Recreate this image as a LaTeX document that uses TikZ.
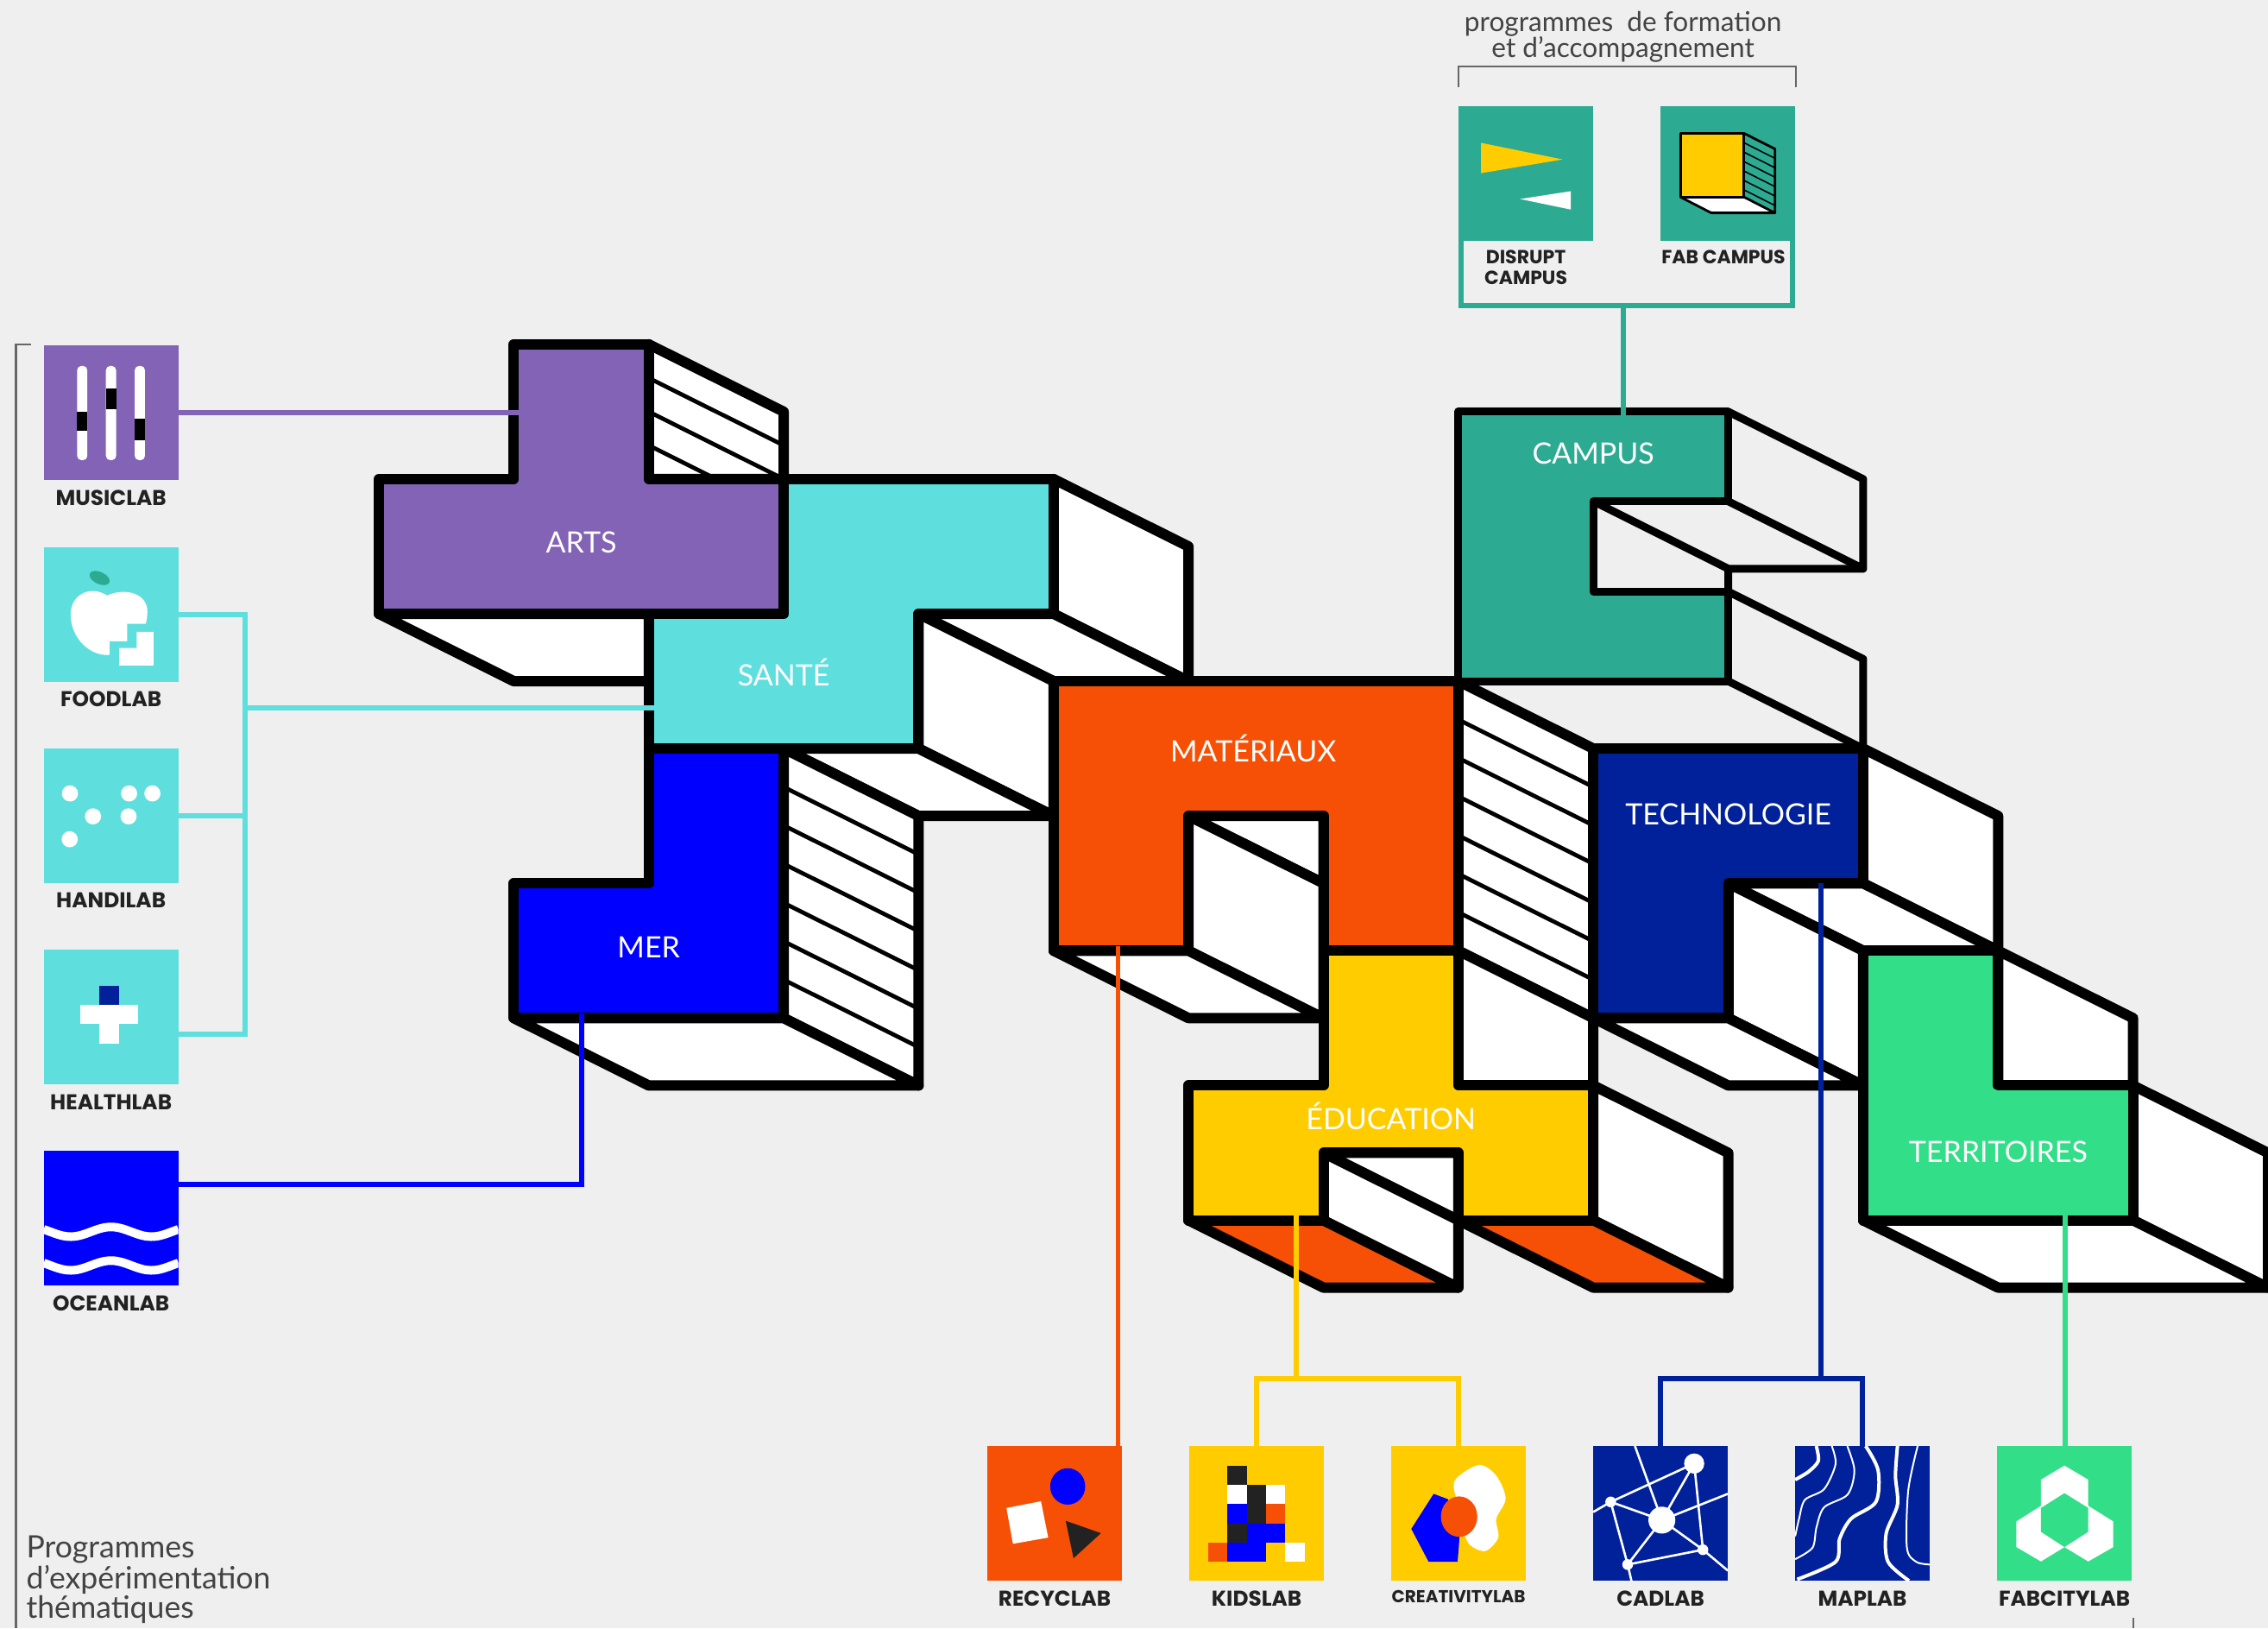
\documentclass[tikz,border=0pt]{standalone}
\usepackage{fontspec}
\usepackage{tikz}
\usetikzlibrary{positioning}
\setmainfont{Lato}
\newfontfamily\labfont{Poppins}

\definecolor{pagebg}{HTML}{EFEFEF}
\definecolor{artscol}{HTML}{8263B5}
\definecolor{santecol}{HTML}{5FDEDE}
\definecolor{mercol}{HTML}{0000FF}
\definecolor{matcol}{HTML}{F55005}
\definecolor{educol}{HTML}{FFCC00}
\definecolor{techcol}{HTML}{00219A}
\definecolor{terrcol}{HTML}{32DE87}
\definecolor{campcol}{HTML}{2DAB92}
\definecolor{inkcol}{HTML}{222222}
\definecolor{bracketcol}{HTML}{666666}

\begin{document}
\begin{tikzpicture}[
    x=78.175pt,
    y=-39.025pt,
    node distance=39pt,
    face/.style={
        draw=black,
        fill=white,
        line width=6pt,
        line join=round
    },
    front/.style={
        face,
        fill=#1
    },
    hollow/.style={
        draw=black,
        line width=4.5pt,
        line join=round
    },
    hatchline/.style={
        draw=black,
        line width=2.4pt
    },
    blocklabel/.style={
        text=white,
        inner sep=0pt,
        font=\fontsize{17}{17}\selectfont
    },
    iconbox/.style={
        minimum size=78pt,
        inner sep=0pt,
        outer sep=0pt
    },
    lablabel/.style={
        below=5.6pt of #1,
        text=inkcol,
        inner sep=0pt,
        align=center,
        font=\fontsize{12.4}{11.7}\selectfont\labfont\bfseries
    },
    iconart/.style={
        shift={(#1.north west)},
        x=0.78pt,
        y=-0.78pt
    },
    link/.style={
        draw=#1,
        line width=3pt
    },
    bracket/.style={
        draw=bracketcol,
        line width=1.1pt
    }
]

\useasboundingbox (-2.808,-5.11) rectangle (14,19.054);
\fill[pagebg] (-2.808,-5.11) rectangle (14,19.054);

% Arts and Sante sides
\path[face] (2,0) -- (3,1) -- (3,2) -- (2,2) -- cycle;
\foreach \h in {.5,1,1.5} \draw[hatchline] (2,\h) -- (3,\h+1);
\path[face] (0,4) -- (1,5) -- (2,5) -- (2,4) -- cycle;
\path[face] (5,2) -- (6,3) -- (6,5) -- (5,4) -- cycle;
\path[face] (4,4) -- (5,4) -- (6,5) -- (5,5) -- cycle;
\path[face] (4,4) -- (5,5) -- (5,7) -- (4,6) -- cycle;
\path[face] (3,6) -- (4,6) -- (5,7) -- (4,7) -- cycle;

% Mer sides
\path[face] (3,6) -- (4,7) -- (4,11) -- (3,10) -- cycle;
\foreach \h in {.57,1.14,1.71,2.29,2.86,3.43} \draw[hatchline] (3,6+\h) -- (4,7+\h);
\path[face] (1,10) -- (3,10) -- (4,11) -- (2,11) -- cycle;

% Materiaux sides
\path[face] (6,7) -- (7,7) -- (7,8) -- cycle;
\path[face] (6,7) -- (7,8) -- (7,10) -- (6,9) -- cycle;
\path[face] (5,9) -- (6,9) -- (7,10) -- (6,10) -- cycle;
\path[face] (8,5) -- (9,6) -- (9,10) -- (8,9) -- cycle;
\foreach \h in {.57,1.14,1.71,2.29,2.86,3.43} \draw[hatchline] (8,5+\h) -- (9,6+\h);
\path[face] (8,9) -- (9,10) -- (9,11) -- (8,11) -- cycle;

% Education sides
\path[face] (9,11) -- (10,12) -- (10,14) -- (9,13) -- cycle;
\path[face] (7,12) -- (8,12) -- (8,13) -- cycle;
\path[face, fill=matcol] (6,13) -- (7,13) -- (8,14) -- (7,14) -- cycle;
\path[face] (7,12) -- (8,13) -- (8,14) -- (7,13) -- cycle;
\path[face, fill=matcol] (8,13) -- (9,13) -- (10,14) -- (9,14) -- cycle;

% Campus sides
\path[hollow] (10,1) -- (11,2) -- (11,3.33) -- (10,2.33);
\path[hollow] (9,2.33) -- (10,3.33) -- (11,3.33);
\path[hollow] (10,3.33) -- (10,3.67) -- (11,4.67) -- (11,6);
\path[hollow] (10,5) -- (11,6);

% Technologie sides
\path[face] (11,6) -- (12,7) -- (12,9) -- (11,8) -- cycle;
\path[face] (10,8) -- (11,8) -- (12,9) -- (11,9) -- cycle;
\path[face] (10,8) -- (11,9) -- (11,11) -- (10,10) -- cycle;
\path[face] (9,10) -- (10,10) -- (11,11) -- (10,11) -- cycle;

% Territoires sides
\path[face] (12,9) -- (13,10) -- (13,11) -- (12,11) -- cycle;
\path[face] (13,11) -- (14,12) -- (14,14) -- (13,13) -- cycle;
\path[face] (11,13) -- (13,13) -- (14,14) -- (12,14) -- cycle;

% Fronts
\path[front=artscol] (0,2) -- (1,2) -- (1,0) -- (2,0) -- (2,2) -- (3,2) -- (3,4) -- (0,4) -- cycle;
\path[front=santecol] (3,2) -- (5,2) -- (5,4) -- (4,4) -- (4,6) -- (2,6) -- (2,4) -- (3,4) -- cycle;
\path[front=mercol] (2,6) -- (3,6) -- (3,10) -- (1,10) -- (1,8) -- (2,8) -- cycle;
\path[front=matcol] (5,5) -- (8,5) -- (8,9) -- (7,9) -- (7,7) -- (6,7) -- (6,9) -- (5,9) -- cycle;
\path[front=educol] (7,9) -- (8,9) -- (8,11) -- (9,11) -- (9,13) -- (8,13) -- (8,12) -- (7,12) -- (7,13) -- (6,13) -- (6,11) -- (7,11) -- cycle;
\path[hollow, fill=campcol] (8,1) -- (10,1) -- (10,2.33) -- (9,2.33) -- (9,3.67) -- (10,3.67) -- (10,5) -- (8,5) -- cycle;
\path[front=techcol] (9,6) -- (11,6) -- (11,8) -- (10,8) -- (10,10) -- (9,10) -- cycle;
\path[front=terrcol] (11,9) -- (12,9) -- (12,11) -- (13,11) -- (13,13) -- (11,13) -- cycle;

% Block names
\node (arts)   [blocklabel] at (1.5,2.94)  {ARTS};
\node (sante)  [blocklabel] at (3,4.87)    {SANTÉ};
\node (mer)    [blocklabel] at (2,8.95)    {MER};
\node (mat)    [blocklabel] at (6.48,6)    {MATÉRIAUX};
\node (edu)    [blocklabel] at (7.5,11.45) {ÉDUCATION};
\node (tech)   [blocklabel] at (10,6.98)   {TECHNOLOGIE};
\node (terr)   [blocklabel] at (12,11.98)  {TERRITOIRES};
\node (campus) [blocklabel] at (9,1.62)    {CAMPUS};

% Icons
\node (musiclab)  [iconbox, fill=artscol] at (-1.985,1.02) {};
\node (foodlab)   [iconbox, fill=santecol, below=38.6pt of musiclab] {};
\node (handilab)  [iconbox, fill=santecol, below=38.6pt of foodlab] {};
\node (healthlab) [iconbox, fill=santecol, below=38.6pt of handilab] {};
\node (oceanlab)  [iconbox, fill=mercol, below=38.6pt of healthlab] {};
\node (recyclab)  [iconbox, fill=matcol] at (5.008,17.35) {};
\node (kidslab)   [iconbox, fill=educol, right=of recyclab] {};
\node (creativitylab) [iconbox, fill=educol, right=of kidslab] {};
\node (cadlab)    [iconbox, fill=techcol, right=of creativitylab] {};
\node (maplab)    [iconbox, fill=techcol, right=of cadlab] {};
\node (fabcitylab)[iconbox, fill=terrcol, right=of maplab] {};
\node (disrupt)   [iconbox, fill=campcol] at (8.5,-2.54) {};
\node (fabcampus) [iconbox, fill=campcol, right=of disrupt] {};

% Icon names
\node (musicname)  [lablabel=musiclab]  {MUSICLAB};
\node (foodname)   [lablabel=foodlab]   {FOODLAB};
\node (handiname)  [lablabel=handilab]  {HANDILAB};
\node (healthname) [lablabel=healthlab] {HEALTHLAB};
\node (oceanname)  [lablabel=oceanlab]  {OCEANLAB};
\node (recycname)  [lablabel=recyclab]  {RECYCLAB};
\node (kidsname)   [lablabel=kidslab]   {KIDSLAB};
\node (creaname)   [lablabel=creativitylab, font=\fontsize{10}{11}\selectfont\labfont\bfseries] {CREATIVITYLAB};
\node (cadname)    [lablabel=cadlab]    {CADLAB};
\node (mapname)    [lablabel=maplab]    {MAPLAB};
\node (fabname)    [lablabel=fabcitylab]{FABCITYLAB};
\node (disruptname)[lablabel=disrupt, font=\fontsize{11}{11.7}\selectfont\labfont\bfseries] {DISRUPT\\CAMPUS};
\node (fabcampname)[lablabel=fabcampus, xshift=-2.5pt, font=\fontsize{11}{11.7}\selectfont\labfont\bfseries] {FAB CAMPUS};

% Icon drawings
\begin{scope}[iconart=musiclab]
    \fill[white, rounded corners=2.5pt] (24.8,15) rectangle (32.4,85);
    \fill[white, rounded corners=2.5pt] (46.2,15) rectangle (53.8,85);
    \fill[white, rounded corners=2.5pt] (67.6,15) rectangle (75.2,85);
    \fill[black] (24.8,49) rectangle (32.4,63);
    \fill[black] (46.2,32) rectangle (53.8,47);
    \fill[black] (67.6,54) rectangle (75.2,70);
\end{scope}
\begin{scope}[iconart=foodlab]
    \fill[campcol] (41.5,23) ellipse [x radius=8, y radius=4.5, rotate=-25];
    \fill[white] (47,36) .. controls (35,28) and (20,35) .. (20,50) .. controls (20,68) and (35,82) .. (50,80) .. controls (70,78) and (77,60) .. (77,48) .. controls (77,34) and (60,30) .. (47,36) -- cycle;
    \fill[santecol] (49,85) -- (49,70) -- (62,70) -- (62,57) -- (85,57) -- (85,85) -- cycle;
    \fill[white] (56,88) -- (81.5,88) -- (81.5,63) -- (69,63) -- (69,75) -- (56,75) -- cycle;
\end{scope}
\begin{scope}[iconart=handilab]
    \fill[white] (19.5,33.5) circle (6);
    \fill[white] (36.6,50.5) circle (6);
    \fill[white] (19.3,67.5) circle (6);
    \fill[white] (63.4,33.5) circle (6);
    \fill[white] (80.7,33.5) circle (6);
    \fill[white] (63,50.5) circle (6);
\end{scope}
\begin{scope}[iconart=healthlab]
    \fill[techcol] (41.5,27) rectangle (56,41);
    \fill[white] (27,41) rectangle (70,55);
    \fill[white] (41.5,55) rectangle (56,70);
\end{scope}
\begin{scope}[iconart=oceanlab]
    \clip (0,0) rectangle (100,100);
    \draw[white, line width=5pt, domain=0:100, samples=60] plot (\x,{60+3.6*sin(6*\x-30)});
    \draw[white, line width=5pt, domain=0:100, samples=60] plot (\x,{85+3.6*sin(6*\x-30)});
\end{scope}
\begin{scope}[iconart=recyclab]
    \fill[mercol] (59.7,30) ellipse [x radius=13, y radius=13.5];
    \fill[white] (14.2,46) -- (39.8,41) -- (45.2,68) -- (19,72.6) -- cycle;
    \fill[inkcol] (58.2,55.5) -- (84.4,64.7) -- (64,83.3) -- cycle;
\end{scope}
\begin{scope}[iconart=kidslab]
    \fill[inkcol] (28.4,14.5) rectangle (42.7,28.8);
    \fill[white] (28.4,28.8) rectangle (42.7,43.2);
    \fill[inkcol] (42.7,28.8) rectangle (57,57.5);
    \fill[white] (57,28.8) rectangle (71.3,43.2);
    \fill[mercol] (28.4,43.2) rectangle (42.7,57.5);
    \fill[matcol] (57,43.2) rectangle (71.3,57.5);
    \fill[inkcol] (28.4,57.5) rectangle (42.7,71.6);
    \fill[mercol] (42.7,57.5) rectangle (71.3,71.6);
    \fill[matcol] (14,71.6) rectangle (28.4,85.9);
    \fill[mercol] (28.4,71.6) rectangle (57,85.9);
    \fill[white] (71.3,71.6) rectangle (85.7,85.9);
\end{scope}
\begin{scope}[iconart=creativitylab]
    \fill[white] plot[smooth cycle] coordinates {(65,14) (78,22) (85,39) (78,54) (79.5,68) (69.6,78) (56.6,71) (50,45) (47,26)};
    \fill[mercol] (31.5,35.5) -- (42.1,39.5) -- (50.7,68) -- (49.3,86) -- (27.8,86) -- (14.9,61.5) -- cycle;
    \fill[matcol] (50.4,52.4) ellipse [x radius=13.5, y radius=15];
\end{scope}
\begin{scope}[iconart=cadlab]
    \clip (0,0) rectangle (100,100);
    \draw[white, line width=1.3pt] (31,0) -- (51,55) -- (100,35.5);
    \draw[white, line width=1.3pt] (0,49) -- (13,41.5) -- (75,13) -- (51,55);
    \draw[white, line width=1.3pt] (13,41.5) -- (51,55) -- (25.6,88) -- (13,41.5);
    \draw[white, line width=1.3pt] (25.6,88) -- (81.5,77) -- (51,55);
    \draw[white, line width=1.3pt] (75,13) -- (81.5,77) -- (100,92.5);
    \draw[white, line width=1.3pt] (25.6,88) -- (28.4,100);
    \fill[white] (51,55) circle (10);
    \fill[white] (75,13) circle (7.5);
    \fill[white] (13,41.5) circle (4);
    \fill[white] (81.5,77) circle (4);
    \fill[white] (25.6,88) circle (4);
\end{scope}
\begin{scope}[iconart=maplab]
    \clip (0,0) rectangle (100,100);
    \draw[white, line width=2pt] plot[smooth] coordinates {(15.7,0) (17.2,11) (10,19) (0,25)};
    \draw[white, line width=1pt] plot[smooth] coordinates {(27.2,0) (30,13.5) (21.5,32) (7.2,40) (2.9,54) (0,67)};
    \draw[white, line width=1pt] plot[smooth] coordinates {(38.7,0) (44,18) (39,36) (21.5,45.5) (15.8,60.5) (12.9,75.5) (0,84)};
    \draw[white, line width=2pt] plot[smooth] coordinates {(52.4,0) (61.6,18) (60,41.5) (41.5,54) (33,69) (30,86) (1.5,99)};
    \draw[white, line width=2pt] plot[smooth] coordinates {(76,0) (74.5,22) (76,43.5) (67.6,65) (69,86) (84.5,100)};
    \draw[white, line width=1pt] plot[smooth] coordinates {(91,0) (84,33) (83,75.5) (90,86) (100,88)};
\end{scope}
\begin{scope}[iconart=fabcitylab]
    \fill[white] (50,14.5) -- (67.7,25) -- (67.7,44.4) -- (86.3,56) -- (86.3,75) -- (67.7,85.7) -- (50,75) -- (32.6,85.7) -- (14.3,75) -- (14.3,56) -- (32.6,44.4) -- (32.6,25) -- cycle;
    \fill[terrcol] (50,35) -- (67.7,46) -- (67.7,63.7) -- (50,75) -- (32.6,63.7) -- (32.6,46) -- cycle;
\end{scope}
\begin{scope}[iconart=disrupt]
    \fill[educol] (16.7,27.5) -- (77.3,39.8) -- (16.7,50) -- cycle;
    \fill[white] (83.3,63.4) -- (45.7,69.2) -- (83.3,77) -- cycle;
\end{scope}
\begin{scope}[iconart=fabcampus]
    \fill[white] (14.8,67.7) -- (62,67.7) -- (85,79.5) -- (37.7,79.5) -- cycle;
    \foreach \h in {7,14,21,28,35,42} \draw[black, line width=.8pt] (62,20.4+\h) -- (85,32+\h);
    \draw[black, line width=1.4pt, line join=round] (62,20.4) -- (85,32) -- (85,79.5) -- (62,67.7) (14.8,67.7) -- (37.7,79.5) -- (85,79.5);
    \draw[black, fill=educol, line width=1.6pt, line join=round] (14.8,20.4) rectangle (62,67.7);
\end{scope}

% Connector ends
\coordinate (artsleft)   at (1.04,1.02);
\coordinate (santeleft)  at (2.04,5.4);
\coordinate (sbus)       at (-.99,5.4);
\coordinate (merbottom)  at (1.5,9.93);
\coordinate (matbottom)  at (5.48,8.93);
\coordinate (edubottom)  at (6.8,12.93);
\coordinate (edujoin)    at (6.8,15.35);
\coordinate (techbottom) at (10.69,8);
\coordinate (techjoin)   at (10.69,15.35);
\coordinate (terrbottom) at (12.5,12.93);
\coordinate (camptop)    at (9.22,1.05);
\coordinate (campboxbottom) at (9.22,-.58);

% Connectors
\draw[link=artscol] (musiclab.east) -- (artsleft);
\draw[link=santecol] (sbus) -- (santeleft);
\draw[link=santecol] (foodlab.east) -| (sbus);
\draw[link=santecol] (handilab.east) -| (sbus);
\draw[link=santecol] ([yshift=-10pt]healthlab.east) -| (sbus);
\draw[link=mercol] ([yshift=19.5pt]oceanlab.east) -| (merbottom);
\draw[link=matcol, line width=2.6pt] (matbottom) -- (matbottom |- recyclab.north);
\draw[link=educol] (edubottom) -- (edujoin);
\draw[link=educol] (kidslab.north) |- (edujoin) -| (creativitylab.north);
\draw[link=techcol] (techbottom) -- (techjoin);
\draw[link=techcol] (cadlab.north) |- (techjoin) -| (maplab.north);
\draw[link=terrcol] (terrbottom) -- (terrbottom |- fabcitylab.north);
\draw[link=campcol] (campboxbottom) -- (camptop);
\draw[link=campcol] ([xshift=1.6pt]disrupt.south west) |- (campboxbottom) -| ([xshift=-1.6pt]fabcampus.south east);

% Brackets and captions
\draw[bracket] (-2.58,0) -- (-2.69,0) -- (-2.69,19.054);
\draw[bracket] (13,18.9) -- (13,19.054);
\draw[bracket] (8,-3.82) -- (8,-4.12) -- (10.5,-4.12) -- (10.5,-3.82);
\node (formation) [text=inkcol!85, inner sep=0pt, align=center, font=\fontsize{15.8}{15}\selectfont] at (9.22,-4.56) {programmes\ \ de formation\\et d'accompagnement};
\node (programmes) [anchor=north west, text=inkcol!85, inner sep=0pt, align=left, font=\fontsize{17.8}{16}\selectfont] at (-2.615,17.68) {Programmes\\d'expérimentation\\thématiques};

\end{tikzpicture}
\end{document}
